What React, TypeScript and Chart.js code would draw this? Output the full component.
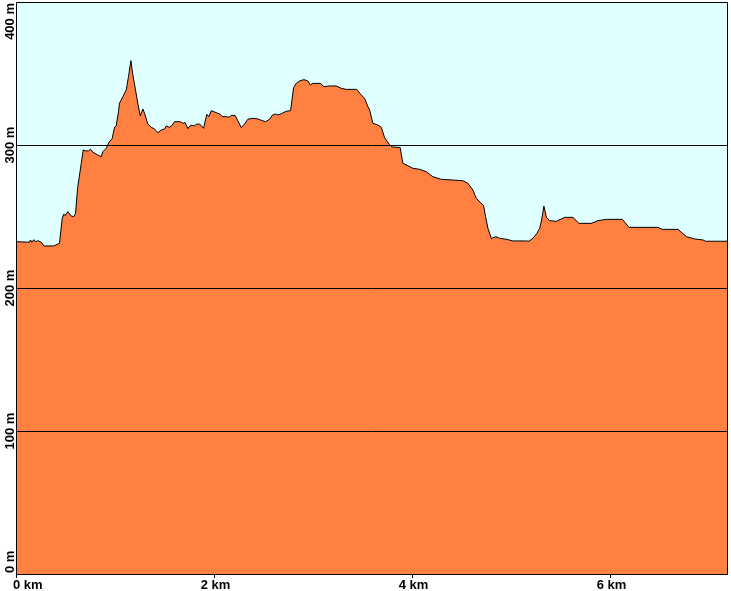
import React, { useEffect, useRef } from "react";
import { Chart, registerables } from "chart.js";

Chart.register(...registerables);

// Distance along the route (km)
const distanceKm = [
  0, 0.136, 0.146, 0.16, 0.18, 0.194, 0.22, 0.255, 0.281, 0.382, 0.439, 0.467, 0.483, 0.497, 0.523,
  0.558, 0.584, 0.601, 0.624, 0.659, 0.679, 0.709, 0.732, 0.753, 0.776, 0.826, 0.861, 0.877, 0.911,
  0.937, 0.972, 0.995, 1.012, 1.035, 1.045, 1.079, 1.113, 1.136, 1.16, 1.18, 1.204, 1.23, 1.255,
  1.281, 1.298, 1.331, 1.366, 1.399, 1.432, 1.467, 1.5, 1.517, 1.551, 1.574, 1.601, 1.659, 1.685,
  1.709, 1.735, 1.763, 1.803, 1.82, 1.854, 1.894, 1.927, 1.947, 1.972, 2.022, 2.063, 2.083, 2.123,
  2.149, 2.18, 2.214, 2.24, 2.275, 2.308, 2.341, 2.392, 2.442, 2.477, 2.52, 2.561, 2.588, 2.621,
  2.644, 2.679, 2.729, 2.773, 2.803, 2.83, 2.864, 2.907, 2.947, 2.972, 2.998, 3.076, 3.106, 3.167,
  3.234, 3.285, 3.335, 3.442, 3.477, 3.52, 3.554, 3.571, 3.604, 3.655, 3.689, 3.722, 3.773, 3.8,
  3.879, 3.907, 3.958, 4.008, 4.076, 4.143, 4.21, 4.295, 4.412, 4.513, 4.564, 4.614, 4.648, 4.722,
  4.742, 4.766, 4.8, 4.846, 4.884, 4.952, 5.018, 5.154, 5.18, 5.22, 5.261, 5.288, 5.308, 5.331,
  5.356, 5.389, 5.457, 5.541, 5.624, 5.685, 5.81, 5.877, 5.962, 6.123, 6.19, 6.483, 6.527, 6.685,
  6.77, 6.854, 6.937, 6.965, 7.187,
];

// Elevation (m)
const elevationM = [
  232.4, 232.0, 233.6, 232.0, 233.8, 232.4, 233.1, 232.0, 229.4, 229.4, 231.3, 248.7, 251.7, 250.6,
  253.4, 250.3, 249.9, 252.2, 270.8, 287.2, 296.5, 295.8, 296.0, 297.0, 294.9, 293.0, 291.8, 295.3,
  297.7, 301.6, 304.7, 312.4, 313.3, 323.3, 329.2, 333.8, 338.5, 347.8, 359.0, 349.0, 339.7, 329.2,
  320.3, 325.2, 322.2, 314.7, 312.4, 311.2, 308.6, 310.5, 311.2, 313.3, 312.4, 313.5, 316.3, 316.3,
  315.2, 315.6, 311.4, 313.8, 313.5, 314.5, 314.7, 311.7, 321.5, 319.8, 324.0, 322.6, 321.5, 319.8,
  319.8, 319.4, 320.8, 320.5, 317.0, 312.1, 314.7, 318.0, 318.7, 318.2, 317.3, 316.3, 318.0, 320.8,
  321.7, 321.0, 321.9, 323.6, 324.0, 340.1, 343.1, 344.8, 345.7, 344.8, 342.0, 343.1, 343.1, 340.8,
  341.3, 341.3, 339.6, 338.9, 338.9, 335.7, 332.7, 326.8, 324.5, 315.2, 314.0, 312.4, 305.2, 300.1,
  298.6, 298.3, 287.2, 285.5, 283.7, 283.0, 281.3, 277.8, 276.0, 275.5, 275.0, 273.2, 268.5, 262.7,
  257.5, 249.9, 241.7, 234.6, 235.9, 234.8, 234.1, 232.9, 232.9, 232.7, 234.8, 238.3, 241.7, 247.6,
  257.3, 249.4, 247.1, 246.6, 249.4, 249.4, 245.2, 245.2, 247.1, 248.0, 248.0, 242.4, 242.4, 241.0,
  241.0, 235.9, 234.3, 233.6, 232.7, 232.7,
];

const xTickValues = [0, 2, 4, 6];
const xTickLabels = ["0 km", "2 km", "4 km", "6 km"];
const yTickValues = [0, 100, 200, 300, 400];
const yTickLabels = ["0 m", "100 m", "200 m", "300 m", "400 m"];

const X_MAX = 7.18;
const FONT = 'bold 13px "Liberation Sans", Arial, sans-serif';

const framePlugin = {
  id: "frameAndLabels",
  beforeDraw(chart: any) {
    const { ctx, chartArea } = chart;
    ctx.save();
    ctx.fillStyle = "#ffffff";
    ctx.fillRect(0, 0, chart.width, chart.height);
    ctx.fillStyle = "#E0FFFF";
    ctx.fillRect(chartArea.left, chartArea.top, chartArea.right - chartArea.left, chartArea.bottom - chartArea.top);
    ctx.restore();
  },
  afterDraw(chart: any) {
    const { ctx, chartArea } = chart;
    const xs = chart.scales.x;
    const ys = chart.scales.y;
    ctx.save();
    ctx.strokeStyle = "#000000";
    ctx.lineWidth = 1;
    ctx.strokeRect(chartArea.left + 0.5, chartArea.top + 0.5, chartArea.right - chartArea.left, chartArea.bottom - chartArea.top);

    ctx.font = FONT;
    ctx.fillStyle = "#000000";
    // x ticks and labels
    xTickValues.forEach((v, i) => {
      const px = Math.round(xs.getPixelForValue(v));
      ctx.beginPath();
      ctx.moveTo(px + 0.5, chartArea.bottom);
      ctx.lineTo(px + 0.5, chartArea.bottom + 4);
      ctx.stroke();
      ctx.textBaseline = "alphabetic";
      if (i === 0) {
        ctx.textAlign = "left";
        ctx.fillText(xTickLabels[i], px - 3, 589);
      } else {
        ctx.textAlign = "center";
        ctx.fillText(xTickLabels[i], px + 1.5, 589);
      }
    });
    // y labels (rotated)
    yTickValues.forEach((v, i) => {
      const py = ys.getPixelForValue(v);
      const w = ctx.measureText(yTickLabels[i]).width;
      let c = Math.max(py, chartArea.top + 1 + w / 2);
      c = Math.min(c, chartArea.bottom - 1 - w / 2);
      ctx.save();
      ctx.translate(14, c);
      ctx.rotate(-Math.PI / 2);
      ctx.textAlign = "center";
      ctx.textBaseline = "alphabetic";
      ctx.fillText(yTickLabels[i], 0, 0);
      ctx.restore();
    });
    ctx.restore();
  },
};

export default function App() {
  const ref = useRef<HTMLCanvasElement | null>(null);

  useEffect(() => {
    if (!ref.current) return;
    const points = distanceKm.map((x, i) => ({ x, y: elevationM[i] }));
    const chart = new Chart(ref.current, {
      type: "line",
      data: {
        datasets: [
          {
            data: points,
            borderColor: "#000000",
            borderWidth: 1,
            backgroundColor: "#FF8040",
            fill: "start",
            pointRadius: 0,
            tension: 0,
          },
        ],
      },
      options: {
        animation: false,
        responsive: false,
        maintainAspectRatio: false,
        events: [],
        layout: { padding: { left: 16, top: 2, right: 4, bottom: 17 } },
        plugins: { legend: { display: false }, tooltip: { enabled: false } },
        scales: {
          x: {
            type: "linear",
            min: 0,
            max: X_MAX,
            display: true,
            grid: { display: false, drawTicks: false },
            border: { display: false },
            ticks: { display: false },
          },
          y: {
            type: "linear",
            min: 0,
            max: 400,
            display: true,
            grid: { color: "#000000", lineWidth: 1, drawTicks: false, z: 1 },
            border: { display: false },
            ticks: { display: false, stepSize: 100 },
          },
        },
      },
      plugins: [framePlugin],
    });
    return () => chart.destroy();
  }, []);

  return (
    <div style={{ position: "fixed", left: 0, top: 0, width: 731, height: 591 }}>
      <canvas ref={ref} width={731} height={591} style={{ display: "block", width: 731, height: 591 }} />
    </div>
  );
}
